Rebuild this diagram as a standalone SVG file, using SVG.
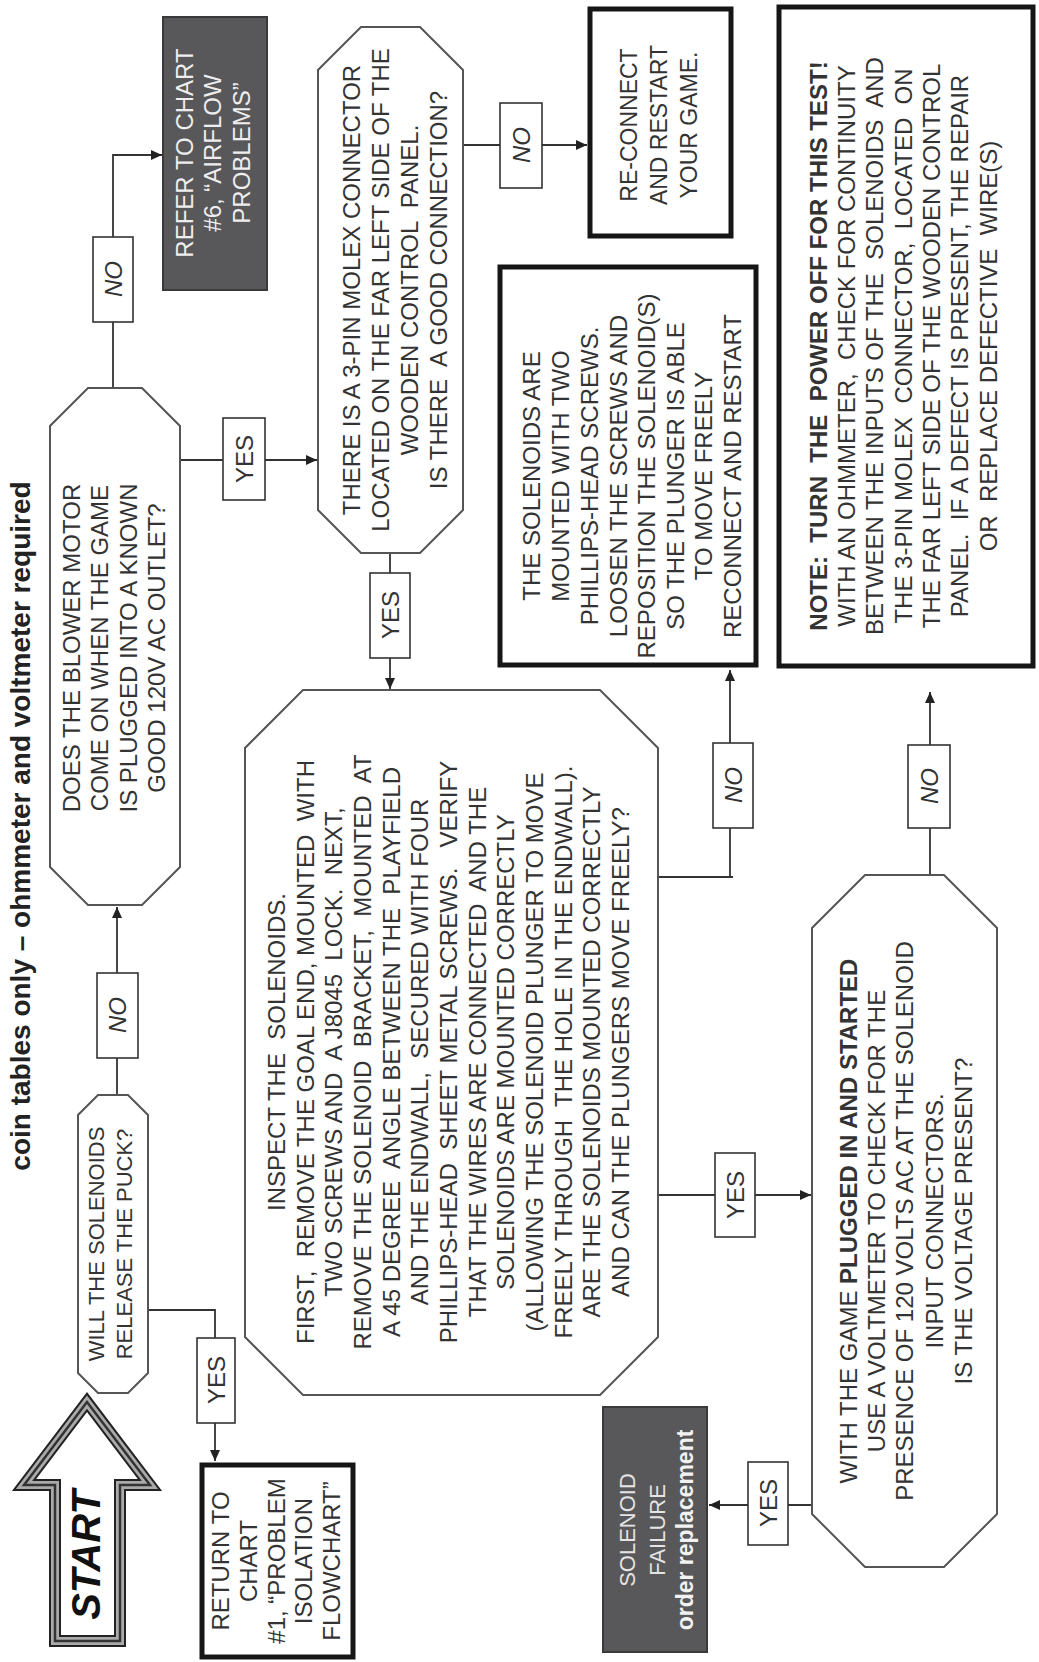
<svg xmlns="http://www.w3.org/2000/svg" width="1039" height="1662" viewBox="0 0 1039 1662">
<defs>
<style>
.t{font-family:"Liberation Sans",Arial,sans-serif;font-size:24px;fill:#333;text-anchor:middle}
.w{fill:#eee}
.b{font-weight:bold}
.i{font-style:italic}
.oct{fill:#fff;stroke:#555;stroke-width:2}
.thick{fill:#fff;stroke:#161616;stroke-width:5}
.dark{fill:#58585a;stroke:#3a3a3a;stroke-width:2}
.lbl{fill:#fff;stroke:#333;stroke-width:1.6}
.conn{fill:none;stroke:#333;stroke-width:1.8}
</style>
<marker id="ah" markerUnits="userSpaceOnUse" markerWidth="12" markerHeight="10" refX="11" refY="5" orient="auto">
<path d="M0,0 L11,5 L0,10 Z" fill="#222"/>
</marker>
</defs>
<rect width="1039" height="1662" fill="#fff"/>

<text class="t b" style="font-size:28px;fill:#222" transform="translate(0,826) rotate(-90)"><tspan x="0" y="30">coin tables only – ohmmeter and voltmeter required</tspan></text>

<g id="connectors">
<path class="conn" d="M117,1095 V907" marker-end="url(#ah)"/>
<path class="conn" d="M148,1310 H215 V1461" marker-end="url(#ah)"/>
<path class="conn" d="M113,388 V155 H162" marker-end="url(#ah)"/>
<path class="conn" d="M180,460 H317" marker-end="url(#ah)"/>
<path class="conn" d="M463,145 H587" marker-end="url(#ah)"/>
<path class="conn" d="M390,553 V689" marker-end="url(#ah)"/>
<path class="conn" d="M658,877 H733 M730,877 V670" marker-end="url(#ah)"/>
<path class="conn" d="M658,1195 H811" marker-end="url(#ah)"/>
<path class="conn" d="M930,875 V692" marker-end="url(#ah)"/>
<path class="conn" d="M812,1505 H709" marker-end="url(#ah)"/>
<g id="labels">
<rect class="lbl" x="97" y="973" width="41" height="85"/>
<text class="t i" transform="translate(0,1015) rotate(-90)"><tspan x="0" y="126">NO</tspan></text>
<rect class="lbl" x="197" y="1338" width="38" height="85"/>
<text class="t" transform="translate(0,1380) rotate(-90)"><tspan x="0" y="225">YES</tspan></text>
<rect class="lbl" x="93" y="237" width="40" height="85"/>
<text class="t i" transform="translate(0,279) rotate(-90)"><tspan x="0" y="122">NO</tspan></text>
<rect class="lbl" x="223" y="418" width="42" height="82"/>
<text class="t" transform="translate(0,459) rotate(-90)"><tspan x="0" y="253">YES</tspan></text>
<rect class="lbl" x="500" y="103" width="42" height="85"/>
<text class="t i" transform="translate(0,145) rotate(-90)"><tspan x="0" y="530">NO</tspan></text>
<rect class="lbl" x="370" y="573" width="40" height="85"/>
<text class="t" transform="translate(0,615) rotate(-90)"><tspan x="0" y="399">YES</tspan></text>
<rect class="lbl" x="713" y="743" width="40" height="85"/>
<text class="t i" transform="translate(0,785) rotate(-90)"><tspan x="0" y="742">NO</tspan></text>
<rect class="lbl" x="715" y="1153" width="40" height="84"/>
<text class="t" transform="translate(0,1195) rotate(-90)"><tspan x="0" y="744">YES</tspan></text>
<rect class="lbl" x="908" y="745" width="42" height="83"/>
<text class="t i" transform="translate(0,786) rotate(-90)"><tspan x="0" y="938">NO</tspan></text>
<rect class="lbl" x="748" y="1462" width="40" height="83"/>
<text class="t" transform="translate(0,1503) rotate(-90)"><tspan x="0" y="777">YES</tspan></text>
</g>
</g>

<g id="start">
<polygon points="87,1402 24,1485 55,1485 55,1641 120,1641 120,1485 150,1485" fill="#fff" stroke="#222" stroke-width="12" stroke-linejoin="miter"/>
<polygon points="87,1402 24,1485 55,1485 55,1641 120,1641 120,1485 150,1485" fill="none" stroke="#aaa" stroke-width="8"/>
<polygon points="87,1402 24,1485 55,1485 55,1641 120,1641 120,1485 150,1485" fill="none" stroke="#333" stroke-width="2.5"/>
<text class="t b i" style="font-size:40px;fill:#111" transform="translate(0,1555) rotate(-90)"><tspan x="0" y="100">START</tspan></text>
</g>

<g id="q-solenoids">
<polygon class="oct" points="98,1095 128,1095 148,1115 148,1373 128,1393 98,1393 78,1373 78,1115"/>
<text class="t" style="font-size:22px" transform="translate(0,1244) rotate(-90)"><tspan x="0" y="104">WILL THE SOLENOIDS</tspan><tspan x="0" y="132">RELEASE THE PUCK?</tspan></text>
</g>

<g id="q-blower">
<polygon class="oct" points="88,388 142,388 180,426 180,867 142,905 88,905 50,867 50,426"/>
<text class="t" transform="translate(0,648) rotate(-90)"><tspan x="0" y="80">DOES THE BLOWER MOTOR</tspan><tspan x="0" y="108">COME ON WHEN THE GAME</tspan><tspan x="0" y="137">IS PLUGGED INTO A KNOWN</tspan><tspan x="0" y="165">GOOD 120V AC OUTLET?</tspan></text>
</g>

<g id="refer-airflow">
<rect class="dark" x="163" y="17" width="104" height="273"/>
<text class="t w" transform="translate(0,153) rotate(-90)"><tspan x="0" y="193">REFER  TO CHART</tspan><tspan x="0" y="221">#6, “AIRFLOW</tspan><tspan x="0" y="250">PROBLEMS”</tspan></text>
</g>

<g id="q-molex">
<polygon class="oct" points="361,27 420,27 463,70 463,510 420,553 361,553 318,510 318,70"/>
<text class="t" xml:space="preserve" transform="translate(0,290) rotate(-90)"><tspan x="0" y="360">THERE IS A 3-PIN MOLEX CONNECTOR</tspan><tspan x="0" y="389">LOCATED ON THE FAR LEFT SIDE OF THE</tspan><tspan x="0" y="418">WOODEN CONTROL  PANEL.</tspan><tspan x="0" y="447">IS THERE  A GOOD CONNECTION?</tspan></text>
</g>

<g id="reconnect">
<rect class="thick" x="590" y="9" width="141" height="227"/>
<text class="t" style="font-size:23px" transform="translate(0,125) rotate(-90)"><tspan x="0" y="637">RE-CONNECT</tspan><tspan x="0" y="667">AND RESTART</tspan><tspan x="0" y="697">YOUR GAME.</tspan></text>
</g>

<g id="mount-fix">
<rect class="thick" x="500" y="267" width="256" height="398"/>
<text class="t" transform="translate(0,476) rotate(-90)"><tspan x="0" y="540">THE SOLENOIDS ARE</tspan><tspan x="0" y="569">MOUNTED WITH TWO</tspan><tspan x="0" y="598">PHILLIPS-HEAD SCREWS.</tspan><tspan x="0" y="627">LOOSEN THE SCREWS AND</tspan><tspan x="0" y="655">REPOSITION THE SOLENOID(S)</tspan><tspan x="0" y="684">SO THE PLUNGER IS ABLE</tspan><tspan x="0" y="712">TO MOVE FREELY</tspan><tspan x="0" y="741">RECONNECT AND RESTART</tspan></text>
</g>

<g id="note">
<rect class="thick" x="779" y="7" width="254" height="659"/>
<text class="t" xml:space="preserve" transform="translate(0,346) rotate(-90)"><tspan x="0" y="827" class="b">NOTE:  TURN  THE  POWER OFF FOR THIS TEST!</tspan><tspan x="0" y="855">WITH AN OHMMETER,  CHECK FOR CONTINUITY</tspan><tspan x="0" y="883">BETWEEN THE INPUTS OF THE  SOLENOIDS  AND</tspan><tspan x="0" y="912">THE 3-PIN MOLEX  CONNECTOR,  LOCATED  ON</tspan><tspan x="0" y="940">THE FAR LEFT SIDE OF THE WOODEN CONTROL</tspan><tspan x="0" y="968">PANEL.  IF A DEFECT IS PRESENT, THE REPAIR</tspan><tspan x="0" y="997">OR  REPLACE DEFECTIVE  WIRE(S)</tspan></text>
</g>

<g id="inspect">
<polygon class="oct" points="303,690 600,690 658,748 658,1337 600,1395 303,1395 245,1337 245,748"/>
<text class="t" xml:space="preserve" transform="translate(0,1052) rotate(-90)"><tspan x="0" y="285">INSPECT THE  SOLENOIDS.</tspan><tspan x="0" y="313.7">FIRST,  REMOVE THE GOAL END, MOUNTED  WITH</tspan><tspan x="0" y="342.3">TWO SCREWS AND  A J8045  LOCK.  NEXT,</tspan><tspan x="0" y="371">REMOVE THE SOLENOID  BRACKET,  MOUNTED  AT</tspan><tspan x="0" y="399.7">A 45 DEGREE  ANGLE BETWEEN THE  PLAYFIELD</tspan><tspan x="0" y="428.3">AND THE ENDWALL,  SECURED WITH FOUR</tspan><tspan x="0" y="457">PHILLIPS-HEAD  SHEET METAL SCREWS.   VERIFY</tspan><tspan x="0" y="485.7">THAT THE WIRES ARE CONNECTED  AND THE</tspan><tspan x="0" y="514.3">SOLENOIDS ARE MOUNTED CORRECTLY</tspan><tspan x="0" y="543">(ALLOWING THE SOLENOID PLUNGER TO MOVE</tspan><tspan x="0" y="571.7">FREELY THROUGH  THE HOLE IN THE ENDWALL).</tspan><tspan x="0" y="600.3">ARE THE SOLENOIDS MOUNTED CORRECTLY</tspan><tspan x="0" y="629">AND CAN THE PLUNGERS MOVE FREELY?</tspan></text>
</g>

<g id="q-voltage">
<polygon class="oct" points="865,875 944,875 997,928 997,1514 944,1567 865,1567 812,1514 812,928"/>
<text class="t" transform="translate(0,1221) rotate(-90)"><tspan x="0" y="857">WITH THE GAME <tspan class="b">PLUGGED IN AND STARTED</tspan></tspan><tspan x="0" y="885">USE A VOLTMETER TO CHECK FOR THE</tspan><tspan x="0" y="913">PRESENCE OF 120 VOLTS AC AT THE SOLENOID</tspan><tspan x="0" y="943">INPUT CONNECTORS.</tspan><tspan x="0" y="972">IS THE VOLTAGE PRESENT?</tspan></text>
</g>

<g id="return-chart1">
<rect class="thick" x="202" y="1465" width="151" height="192"/>
<text class="t" transform="translate(0,1561) rotate(-90)"><tspan x="0" y="229">RETURN TO</tspan><tspan x="0" y="257">CHART</tspan><tspan x="0" y="285">#1, “PROBLEM</tspan><tspan x="0" y="312">ISOLATION</tspan><tspan x="0" y="340">FLOWCHART”</tspan></text>
</g>

<g id="solenoid-failure">
<rect class="dark" x="603" y="1407" width="104" height="245"/>
<text class="t" style="fill:#e4e4e4;font-size:22px" transform="translate(0,1530) rotate(-90)"><tspan x="0" y="635">SOLENOID</tspan><tspan x="0" y="665">FAILURE</tspan><tspan x="0" y="693" class="b" style="font-size:23px;fill:#f2f2f2">order replacement</tspan></text>
</g>
</svg>
